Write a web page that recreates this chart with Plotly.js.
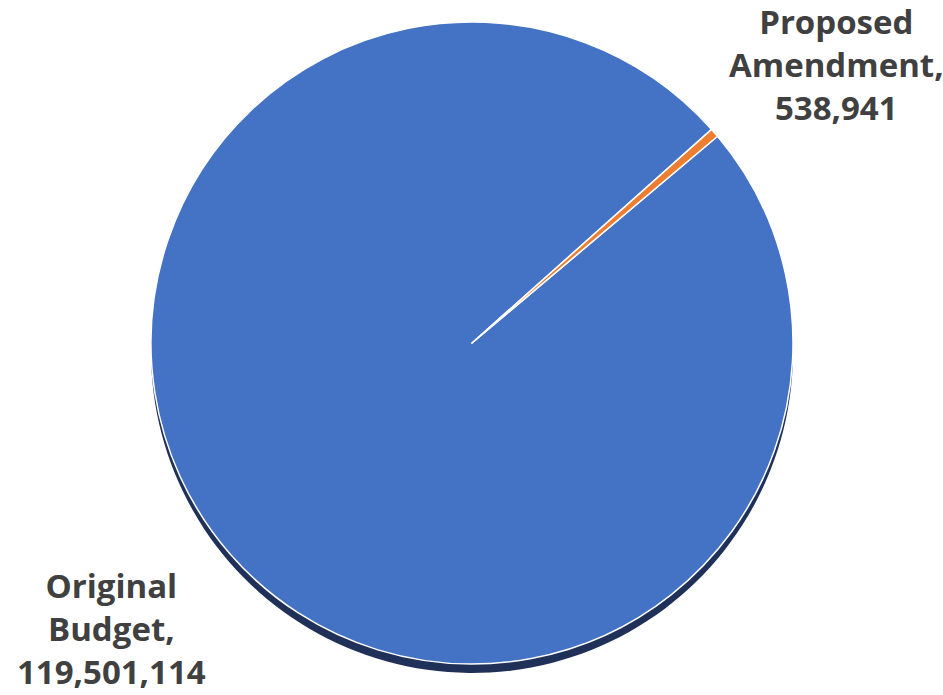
<!DOCTYPE html>
<html><head><meta charset="utf-8">
<script src="https://cdn.plot.ly/plotly-3.0.1.min.js"></script>
<style>html,body{margin:0;padding:0;background:#fff}</style>
</head><body><div id="chart" style="width:943px;height:695px"></div>
<script>
const categories = ["Original Budget", "Proposed Amendment"];
const values = [119501114, 538941];
const colors = ["#4472C4", "#ED7D31"];

const W = 943, H = 695;
const cx = 472, cy = 343, r = 321, shadowDy = 9;
function dom(dy){
  return {x:[(cx-r)/W,(cx+r)/W], y:[1-(cy+r+dy)/H, 1-(cy-r+dy)/H]};
}
const fmt = v => v.toLocaleString("en-US");

const shadow = {
  type:"pie", values: values, labels: categories, sort:false, direction:"clockwise",
  rotation: 49.9, domain: dom(shadowDy), textinfo:"none", hoverinfo:"skip",
  marker:{colors:["#1F3158","#1F3158"], line:{width:0}}, showlegend:false
};
const main = {
  type:"pie", values: values, labels: categories, sort:false, direction:"clockwise",
  rotation: 49.9, domain: dom(0), textinfo:"none",
  marker:{colors: colors, line:{color:"#ffffff", width:1.5}}, showlegend:false
};

const labelPos = [
  {x: 111/W, y: 1-628/H, text: "Original<br>Budget,<br>" + fmt(values[0])},
  {x: 836/W, y: 1-65/H, text: "Proposed<br>Amendment,<br>" + fmt(values[1])}
];
const annotations = labelPos.map(p => ({
  xref:"paper", yref:"paper", x:p.x, y:p.y, xanchor:"center", yanchor:"middle",
  text:"<b>"+p.text+"</b>", showarrow:false, align:"center",
  font:{family:"Open Sans, sans-serif", size:33, color:"#404040"}
}));

Plotly.newPlot("chart", [shadow, main], {
  width:W, height:H, margin:{l:0,r:0,t:0,b:0},
  paper_bgcolor:"#ffffff", showlegend:false, annotations: annotations
}, {displayModeBar:false, staticPlot:true});
</script></body></html>
